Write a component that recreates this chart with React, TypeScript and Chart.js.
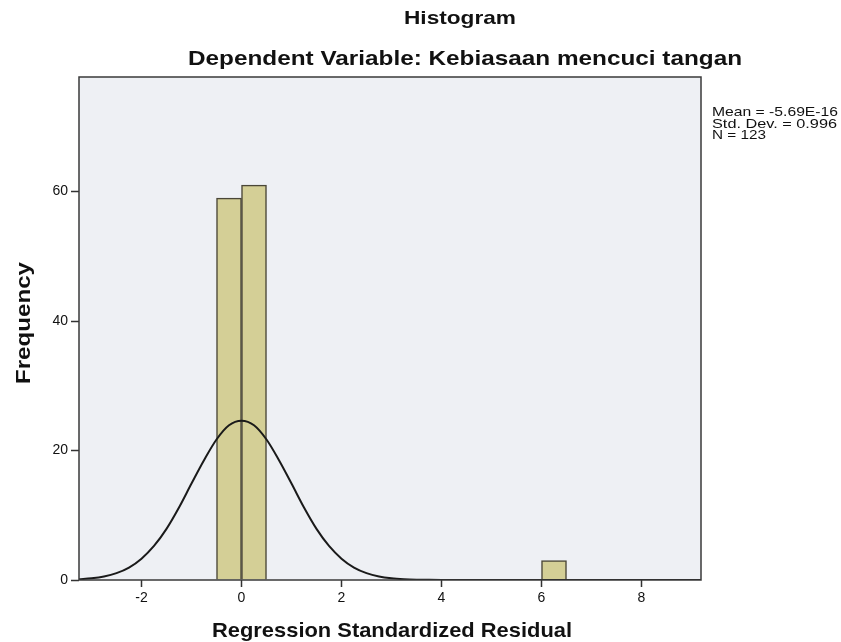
import React, { useEffect, useRef } from "react";
import { Chart, registerables } from "chart.js";

Chart.register(...registerables);

// ---- data ----
const TITLE = "Histogram";
const SUBTITLE = "Dependent Variable: Kebiasaan mencuci tangan";
const X_TITLE = "Regression Standardized Residual";
const Y_TITLE = "Frequency";
const STATS_LINES = ["Mean = -5.69E-16", "Std. Dev. = 0.996", "N = 123"];

const binCenters = [-0.25, 0.25, 6.25];
const binCounts = [59, 61, 3];

const curveX = [
  -3.25, -3, -2.75, -2.5, -2.25, -2, -1.75, -1.5, -1.25, -1, -0.75, -0.5, -0.25, 0,
  0.25, 0.5, 0.75, 1, 1.25, 1.5, 1.75, 2, 2.25, 2.5, 2.75, 3, 3.25, 3.5, 3.75, 4,
  5, 6, 7, 8, 9.25,
];
const curveY = [
  0.12, 0.26, 0.54, 1.06, 1.92, 3.3, 5.26, 7.9, 11.2, 14.9, 18.5, 21.7, 23.9, 24.6,
  23.9, 21.7, 18.5, 14.9, 11.2, 7.9, 5.26, 3.3, 1.92, 1.06, 0.54, 0.26, 0.12, 0.05, 0.02, 0.01,
  0, 0, 0, 0, 0,
];

const xMin = -3.25;
const xMax = 9.19;
const xStep = 2;
const yMin = 0;
const yMax = 77.7;
const yStep = 20;

const FONT = "'Liberation Sans', Arial, sans-serif";

function drawFit(
  ctx: CanvasRenderingContext2D,
  text: string,
  x: number,
  y: number,
  font: string,
  width: number | null,
  align: "left" | "center",
  rotate = 0
) {
  ctx.save();
  ctx.font = font;
  ctx.fillStyle = "#111";
  ctx.textBaseline = "alphabetic";
  ctx.textAlign = "left";
  const w = ctx.measureText(text).width;
  const sx = width ? width / w : 1;
  ctx.translate(x, y);
  if (rotate) ctx.rotate(rotate);
  ctx.scale(sx, 1);
  const startX = align === "center" ? -w / 2 : 0;
  ctx.fillText(text, startX, 0);
  ctx.restore();
}

const decorPlugin = {
  id: "decor",
  beforeDatasetsDraw(chart: any) {
    const { ctx, chartArea } = chart;
    ctx.save();
    ctx.fillStyle = "#eef0f4";
    ctx.fillRect(chartArea.left, chartArea.top, chartArea.right - chartArea.left, chartArea.bottom - chartArea.top);
    ctx.restore();
  },
  afterDatasetsDraw(chart: any) {
    const { ctx, chartArea } = chart;
    ctx.save();
    ctx.strokeStyle = "#3a3a3a";
    ctx.lineWidth = 1.5;
    ctx.strokeRect(chartArea.left, chartArea.top, chartArea.right - chartArea.left, chartArea.bottom - chartArea.top);
    ctx.restore();
  },
  afterDraw(chart: any) {
    const { ctx } = chart;
    drawFit(ctx, TITLE, 460, 24, `bold 19px ${FONT}`, 112, "center");
    drawFit(ctx, SUBTITLE, 465, 65, `bold 21px ${FONT}`, 554, "center");
    drawFit(ctx, X_TITLE, 392, 637, `bold 21px ${FONT}`, 360, "center");
    drawFit(ctx, Y_TITLE, 30, 323, `bold 20px ${FONT}`, 122, "center", -Math.PI / 2);
    const widths = [126, 125, 54];
    STATS_LINES.forEach((line, i) => {
      drawFit(ctx, line, 712, 116 + i * 11.5, `13px ${FONT}`, widths[i], "left");
    });
  },
};

export default function App() {
  const ref = useRef<HTMLCanvasElement | null>(null);

  useEffect(() => {
    if (!ref.current) return;
    const chart = new Chart(ref.current, {
      type: "bar",
      data: {
        datasets: [
          {
            type: "line",
            data: curveX.map((x, i) => ({ x, y: curveY[i] })),
            borderColor: "#1a1a1a",
            borderWidth: 2,
            pointRadius: 0,
            cubicInterpolationMode: "monotone",
            fill: false,
            order: 1,
          } as any,
          {
            type: "bar",
            data: binCenters.map((x, i) => ({ x, y: binCounts[i] })),
            backgroundColor: "#d4cf96",
            borderColor: "#4a4637",
            borderWidth: 1.5,
            barPercentage: 1,
            categoryPercentage: 1,
            grouped: false,
            order: 2,
          } as any,
        ],
      },
      options: {
        responsive: false,
        animation: false,
        layout: { padding: { top: 77, right: 140, bottom: 0, left: 0 } },
        plugins: {
          legend: { display: false },
          tooltip: { enabled: false },
          title: { display: false },
        },
        scales: {
          x: {
            type: "linear",
            min: xMin,
            max: xMax,
            offset: false,
            afterFit: (s: any) => {
              s.height = 62;
            },
            border: { display: false },
            grid: {
              display: true,
              offset: false,
              drawOnChartArea: false,
              drawTicks: true,
              tickLength: 7,
              tickColor: "#333",
              tickWidth: 1.5,
            },
            ticks: {
              stepSize: xStep,
              includeBounds: false,
              maxRotation: 0,
              padding: 3,
              color: "#111",
              font: { family: FONT, size: 14 },
            },
          },
          y: {
            type: "linear",
            min: yMin,
            max: yMax,
            afterFit: (s: any) => {
              s.width = 79;
            },
            border: { display: false },
            grid: {
              display: true,
              drawOnChartArea: false,
              drawTicks: true,
              tickLength: 8,
              tickColor: "#333",
              tickWidth: 1.5,
            },
            ticks: {
              stepSize: yStep,
              includeBounds: false,
              padding: 3,
              color: "#111",
              font: { family: FONT, size: 14 },
            },
          },
        },
      },
      plugins: [decorPlugin],
    } as any);
    return () => chart.destroy();
  }, []);

  return (
    <div style={{ position: "absolute", left: 0, top: 0, width: 841, height: 642, background: "#fff" }}>
      <canvas ref={ref} width={841} height={642} style={{ width: 841, height: 642, display: "block" }} />
    </div>
  );
}
